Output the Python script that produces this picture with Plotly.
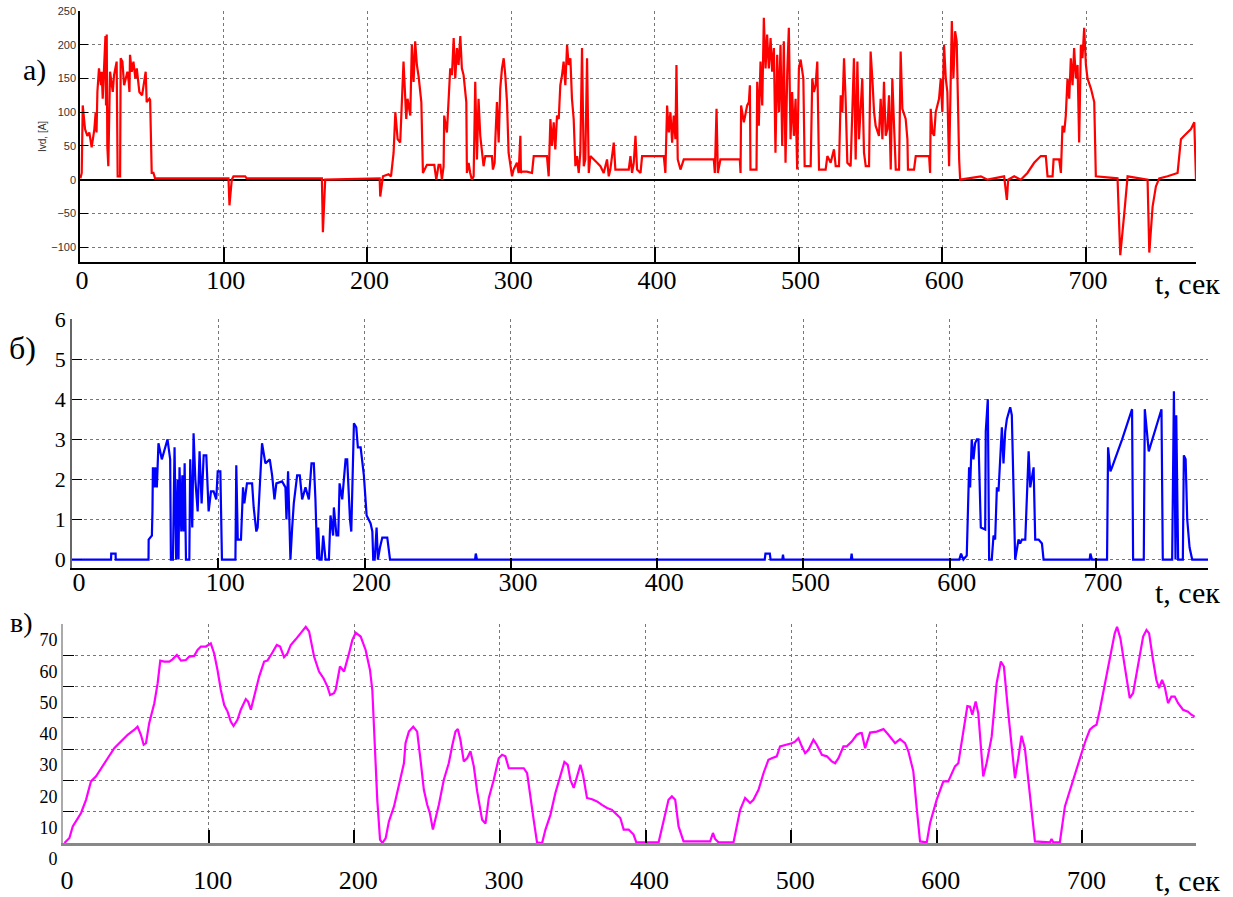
import plotly.graph_objects as go

W, H = 1233, 897

# ---------------- data ----------------
# panel a: Ivd, [A]
t_a = [0.3, 1.2, 1.9, 3.5, 5.1, 6.5, 8.1, 10.0, 10.9, 11.5, 12.1, 13.2, 14.6, 15.1, 15.8, 17.7, 18.1, 18.6, 19.0, 19.7,
       20.9, 22.8, 23.7, 25.5, 26.2, 27.9, 28.3, 29.5, 30.7, 32.0, 33.0, 33.9, 34.4, 34.8, 36.0, 37.2, 38.5, 39.5,
       41.3, 43.2, 45.7, 46.4, 48.3, 48.8, 49.9, 51.1, 52.2, 103.3, 104.0, 105.6, 106.8, 114.9, 116, 168.3, 169.0,
       170.6, 208.5, 208.9, 210.8, 214.7, 216.4, 218.2, 219.4, 221.0, 222.8, 225.1, 227, 227.9, 229.8, 230.9, 232.1,
       233.2, 234.4, 235.6, 236.7, 237.5, 238.6, 241.4, 246.5, 247.9, 249.5, 250.7, 251.8, 253, 253.4, 255.3, 257.6,
       258.8, 260, 261.1, 262.3, 263.4, 264.6, 265.7, 266.9, 268.8, 269.2, 270.4, 271.5, 272.7, 273.9, 275, 276.2,
       277.3, 278.5, 279.7, 280.8, 282, 286.6, 287.3, 288.5, 289, 290.1, 291.3, 292.4, 293.6, 294.8, 295.9, 297.1,
       298.2, 299.4, 300.6, 301.7, 304, 305.2, 306.4, 306.8, 307.5, 311, 314.5, 315.7, 324.9, 326.1, 327.3, 328.4,
       329.6, 330.7, 331.9, 333.1, 334.2, 335.4, 336.5, 337.7, 338.9, 340, 341.2, 342.3, 343.5, 344.7, 345.8, 347,
       348.1, 349.3, 350.5, 351.6, 352.8, 354, 355.1, 359.8, 362.1, 364.4, 366.7, 367.9, 369, 371.4, 372.5, 381.8,
       383, 384.1, 385.3, 386.5, 387.6, 390, 391.1, 406.2, 407.3, 408.5, 409.7, 410.8, 412, 413.1, 414.3, 415,
       415.9, 417.8, 420.1, 441, 441.7, 442.9, 443.8, 445.6, 459.1, 459.6, 460, 461.9, 464.2, 465.4, 466.1, 466.5,
       470.7, 471.2, 472.3, 473.5, 474.7, 475.8, 477, 478.1, 479.3, 480.5, 481.6, 482.8, 483.9, 485.1, 486.3, 487.4,
       488.6, 489.7, 490.9, 492.1, 493.2, 494.4, 495.5, 496.7, 497.9, 499, 500.2, 501.4, 503.3, 504.2, 506, 508.4,
       509.5, 510.7, 511.8, 513, 514.2, 518.8, 520, 522.3, 524.6, 525.8, 528.1, 529.3, 530.4, 531.6, 532.7, 533.9,
       536.2, 537.4, 538.5, 539.7, 540.9, 542, 544.3, 545.5, 546.7, 549, 550.1, 551.3, 552.5, 553.6, 555.9, 557.1,
       558.3, 559.4, 560.6, 561.8, 562.9, 564.1, 565.2, 566.4, 567.6, 569.9, 571.0, 572.2, 574.5, 575.7, 576.1,
       580.3, 581.5, 590.8, 591.5, 591.9, 593.1, 594.3, 595.4, 597.7, 598.9, 600, 601.2, 602.4, 603.5, 604.7, 605.4,
       606.6, 607.7, 608.9, 610, 611, 611.7, 612.4, 626.8, 631.4, 643, 644.9, 645.8, 650, 654.6, 659.2, 663.9,
       668.5, 672, 673.2, 676.7, 677.4, 681.3, 682.5, 683.6, 684.8, 685.9, 687.1, 688.3, 689.4, 690.6, 691.7, 692.9,
       694.1, 695.2, 696.4, 697.5, 698.7, 699.9, 701, 703.4, 705.7, 706.8, 721.9, 723.8, 726.6, 728.9, 742.8, 744,
       746.3, 748.6, 750.9, 756.7, 763.7, 766, 768.3, 773, 775.3, 776.5]
ivd_a = [2, 10, 110, 75, 65, 70, 48, 75, 100, 70, 130, 165, 140, 160, 120, 213, 110, 215, 50, 20,
         160, 130, 155, 175, 5, 5, 180, 175, 140, 150, 160, 145, 130, 185, 160, 175, 150, 165,
         130, 125, 160, 115, 120, 118, 10, 10, 2, 2, -38, 0, 5, 5, 2, 2, -78,
         0, 2, -25, 5, 8, 5, 40, 100, 60, 55, 175, 90, 120, 95, 200, 145,
         205, 170, 153, 124, 115, 10, 22, 22, 0, 22, 22, 0, 20, 95, 70, 165,
         155, 210, 150, 195, 170, 213, 165, 155, 115, 10, 25, 10, 0, 5, 145, 30,
         120, 65, 35, 20, 35, 35, 15, 25, 60, 115, 55, 135, 165, 180, 155, 115,
         40, 25, 5, 15, 25, 10, 65, 10, 12, 12, 10, 35, 35, 5, 90, 50,
         85, 45, 95, 90, 140, 155, 175, 140, 200, 170, 180, 120, 90, 20, 35, 10,
         40, 195, 20, 30, 180, 10, 35, 25, 20, 10, 30, 5, 15, 55, 15, 15,
         35, 10, 25, 65, 15, 10, 35, 35, 10, 110, 70, 100, 55, 95, 60, 170,
         30, 15, 30, 30, 10, 105, 10, 30, 30, 10, 110, 85, 110, 115, 140, 15,
         15, 145, 80, 175, 110, 240, 165, 215, 165, 210, 160, 195, 40, 185, 100, 200,
         50, 205, 25, 160, 225, 60, 130, 65, 120, 15, 165, 178, 150, 20, 20, 20,
         150, 130, 140, 175, 15, 15, 35, 25, 45, 20, 20, 125, 100, 180, 120, 25,
         20, 100, 180, 30, 175, 60, 150, 40, 20, 20, 190, 150, 100, 80, 65, 120,
         60, 145, 65, 75, 125, 15, 150, 80, 15, 15, 190, 105, 90, 60, 15,
         15, 35, 35, 10, 105, 70, 65, 100, 120, 150, 100, 200, 150, 130, 20, 120,
         235, 150, 220, 205, 60, 30, 0, 5, 0, 5, -30, 0, 5, 0, 10, 25,
         35, 35, 5, 5, 30, 30, 10, 80, 70, 95, 150, 120, 180, 140, 195, 150,
         170, 55, 200, 180, 225, 170, 150, 135, 115, 5, 2, -112, -50, 5, 0, -108,
         -40, -10, 2, 5, 10, 60, 65, 75, 85, 0]

# panel b
t_b = [0, 26.7, 26.8, 29.8, 29.9, 52.3, 52.4, 54.6, 55.0, 55.3, 56.4, 56.9, 58, 59.1, 61.4, 63.7, 65.3, 67.1, 67.6,
       69, 70.1, 71.2, 72.2, 72.8, 73.5, 74.7, 75.4, 76.3, 77, 77.9, 80.2, 80.8, 82.2, 83.1, 84.3, 85.9, 87.2, 88.6,
       90, 91.8, 93.4, 95, 96.8, 98.6, 99.6, 101.4, 102.5, 111.7, 112.3, 113.3, 115.5, 116.9, 117.8, 119.6, 123.1,
       124.2, 126, 126.9, 128.3, 129.9, 132.2, 135.2, 136.8, 138.4, 139.7, 143.6, 145.9, 146.6, 147.7, 149.3, 150.5,
       151.6, 153.9, 155.7, 157.3, 159.6, 161.9, 163.7, 165.3, 166.4, 167.6, 168.3, 169.2, 170.6, 171.7, 173.3,
       175.6, 176.7, 178.5, 179, 180.8, 182, 182.9, 184.7, 187, 188.1, 190, 190.9, 192.7, 194.3, 195.4, 197.3,
       199.5, 201.4, 204.1, 205.3, 205.9, 206.9, 208.2, 209.1, 210.5, 212.1, 215.5, 217.4, 275.5, 276, 276.8,
       473.5, 474, 477, 477.5, 485.5, 486, 486.5, 532.4, 532.9, 533.4, 606.5, 607.7, 609.3, 611.6, 613.2, 613.9,
       615.0, 616.2, 617.3, 618.5, 619.6, 621.2, 624.2, 624.6, 626.0, 626.9, 628.7, 629.9, 631.0, 632.2, 633.3,
       635.6, 636.7, 637.9, 639.0, 641.3, 642.4, 644.7, 647.0, 648.1, 649.3, 651.6, 653.9, 655.0, 656.1, 657.3,
       658.4, 660.7, 663.0, 664.1, 695.6, 696.1, 697.2, 707.5, 708.2, 709.8, 710.9, 717.8, 724.6, 725.3, 732.6,
       733.3, 736.0, 744.7, 745.6, 752.0, 753.2, 754.3, 754.8, 756.1, 759.3, 760.0, 761.2, 762.3, 763.9, 765.7,
       776.5]
w_b = [0, 0, 0.15, 0.15, 0, 0, 0.5, 0.6, 1.2, 2.3, 1.8, 2.3, 1.8, 2.9, 2.5, 2.8, 3.0, 2.5, 0,
       0, 2.8, 0, 2.0, 0, 2.3, 0.7, 2.1, 0.7, 2.4, 0, 0, 2.5, 0.8, 3.15, 2.0, 1.2, 2.7, 1.4,
       2.6, 2.6, 1.2, 1.7, 1.7, 1.5, 2.2, 2.2, 0, 0, 2.35, 0.5, 0.5, 1.8, 1.4, 1.9, 1.9,
       1.3, 0.7, 0.8, 1.8, 2.9, 2.4, 2.5, 2.1, 1.5, 1.9, 1.95, 1.8, 1.0, 2.2, 0, 0.8,
       1.4, 2.1, 2.1, 1.5, 1.8, 1.5, 2.4, 2.4, 1.5, 0, 0.8, 0, 0, 0.6, 0,
       0, 1.1, 0.6, 1.3, 0.6, 0.6, 1.9, 1.5, 2.5, 2.5, 1.0, 0.7, 3.4, 3.3, 2.8, 2.8,
       2.1, 1.1, 0.9, 0.7, 0, 0, 0.8, 0, 0.3, 0.55, 0.55, 0, 0, 0.15, 0,
       0, 0.15, 0.15, 0, 0, 0.12, 0, 0, 0.15, 0, 0, 0.15, 0, 0.1, 2.3, 1.8,
       3.0, 2.5, 2.9, 3.0, 3.0, 0.8, 0.75, 3.2, 4.0, 0, 0, 0.6, 0.5, 1.8, 1.7,
       3.3, 2.4, 3.2, 3.5, 3.8, 3.6, 0, 0.5, 0.4, 0.5, 0.5, 2.7, 1.8, 2.0, 2.3,
       0.5, 0.5, 0.4, 0, 0, 0.15, 0, 0, 2.8, 2.2, 2.3, 3.0, 3.75, 0, 0,
       3.75, 2.7, 3.75, 0, 0, 4.2, 0, 3.6, 0, 0, 2.6, 2.5, 1.0, 0.3, 0,
       0]

# panel c
t_c = [1, 4.4, 6.7, 8.9, 12.4, 15.8, 19.2, 22.7, 26.1, 30.7, 35.2, 39.8, 44.4, 49, 51.2, 53.5, 55.4, 57, 59.2, 62.7,
       65, 66.8, 69.5, 73, 75.2, 78.2, 81, 84.4, 86.7, 90.1, 92.4, 94.7, 98.1, 101.5, 103.8, 106.1, 108.4, 110.7,
       113, 115.2, 117.1, 119.8, 122.1, 125.5, 127.1, 129, 131.3, 134.7, 138.1, 140.4, 143.8, 146.8, 149.1, 151.8,
       154.1, 156.4, 159.8, 163.3, 166.7, 169, 172.4, 175.8, 178.8, 181.6, 183.4, 186.1, 187.3, 190.2, 193, 196.4,
       198.7, 201, 204.4, 207.8, 210.8, 212.4, 214.7, 215.8, 217.7, 219.3, 221.6, 223.8, 227.3, 230.7, 234.1,
       235.2, 237.5, 240.5, 243.2, 245.5, 247.8, 250.1, 251.9, 254, 255.8, 258.1, 261.5, 264.9, 267.2, 269.5,
       271.1, 272.9, 275.2, 277.5, 279.8, 282.1, 284.4, 287.8, 290.1, 292.4, 295.8, 299.2, 301.5, 303.8, 306.1,
       309.5, 316.4, 318.7, 321, 323.2, 325.5, 329, 331.3, 334.7, 338.1, 341.5, 344.3, 346.6, 348.4, 350.7, 353,
       355.3, 357.1, 359.8, 363.3, 366.7, 370.1, 373.6, 377, 379.3, 382.7, 385, 388.4, 391.8, 393.7, 409, 412.4,
       415.8, 418.1, 420.4, 422.7, 426.1, 444.4, 446.3, 447.8, 450.1, 460.4, 462.7, 465, 468.4, 471.8, 474.1,
       477.6, 481, 484.4, 486.7, 490.1, 492.4, 497, 500.4, 502.7, 505, 507.3, 509.6, 511.9, 515.3, 517.6, 521.1,
       524.5, 527.9, 530.2, 532.5, 535.9, 538.2, 541.6, 545.1, 547.4, 548.5, 550.8, 554.2, 558.8, 563.4, 566.8,
       571.4, 574.8, 578.2, 580.5, 583.9, 586.2, 588.5, 593.1, 595.4, 599.9, 604.5, 607.9, 612.5, 614.8, 617.1,
       619.4, 621, 622.8, 624.4, 626.7, 628.5, 631.9, 634.2, 637.7, 641.1, 644, 646.1, 649.1, 653.7, 656, 658.2,
       660.5, 664, 667.4, 677.7, 678.8, 680, 684.5, 688, 691.4, 696, 699.4, 702.4, 705.1, 707.4, 709.7, 712,
       715.4, 718.8, 722.2, 723.8, 726.1, 729.1, 732.5, 734.8, 738.2, 741.7, 744, 745.8, 748.5, 750.8, 752.6,
       754.7, 756.5, 758.8, 761.1, 763.4, 765.7, 769.1, 772.5, 774.8, 777.1]
v_c = [0, 1.6, 5.3, 6.9, 9.6, 13.8, 19.7, 21.3, 23.9, 27.1, 30.3, 32.4, 34.6, 36.2, 37.2, 34.6, 31.4, 31.9, 38.3, 44.7,
       51.1, 58.3, 58, 58, 58.7, 60.1, 58.3, 58.5, 59.6, 59.8, 61.7, 62.8, 62.8, 63.8, 60.6, 55.3, 48.9, 44.1,
       42, 38.8, 37.4, 39.4, 42.6, 46, 45.2, 42.6, 46.8, 53.2, 58, 58.3, 60.9, 63.3, 62.8, 59.4,
       60.6, 63.3, 65.1, 67, 69.1, 67.6, 59.6, 54.8, 52.7, 50, 47.3, 47.9, 49.1, 56.4, 54.8, 60.6,
       64.9, 67.2, 66, 61.7, 55.3, 48.9, 26.6, 13.8, 1.1, 0, 1.6, 6.9, 11.7, 18.6, 25.5,
       31.9, 35.6, 37.2, 35.6, 26.6, 17, 12.2, 9.6, 4.3, 7.4, 12.2, 20.2, 25.5, 30.9, 35.6,
       36.4, 33, 26.1, 27.1, 29.3, 24.5, 16.5, 7.4, 6.2, 14.4, 20.2, 27.1, 28.2, 27.7, 23.9,
       23.9, 23.9, 22.3, 15.4, 7.4, 0.2, 0, 4.3, 9, 16, 21.3, 25.9, 25, 20.2, 17.6, 21.3,
       25, 21.8, 14.4, 14, 13.3, 12.2, 11.2, 10.6, 9.6, 8, 4.3, 4.3, 2.7, 0.2, 0.2, 7.4,
       13.8, 14.9, 13.8, 5.3, 0.5, 0.5, 3.2, 1.3, 0.2, 0.2, 5.3, 10.6, 14.4, 12.8, 13.8,
       17, 22.3, 26.6, 27.1, 27.7, 30.9, 31.4, 31.9, 32.4, 33.5, 30.9, 28.7, 29.8, 33, 31.4, 28.2,
       27.7, 26.1, 25.5, 27.1, 30.9, 30.9, 32.4, 34.6, 35.1, 35.1, 30.3, 35.3, 35.6, 36.4, 34.6,
       31.9, 33.2, 31.9, 29.3, 22.9, 11.2, 0.5, 0.2, 6.4, 13.8, 19.7, 19.7, 24.5, 25.5, 31.9,
       38.8, 43.8, 43.6, 41, 45.2, 41.5, 21.3, 25.5, 34, 51.1, 58, 56.4, 41.5, 20.7, 27.1, 34.3,
       30.3, 14.4, 0.5, 0.2, 1.3, 0.2, 0.2, 11.7, 17, 23.4, 28.7, 33, 36.2, 37.2, 37.8, 42.6,
       51.1, 59, 67, 69.1, 65.4, 56.4, 46.3, 47.9, 57.4, 66, 68.1, 67, 58.5, 52.1, 49.5,
       52.1, 50, 44.7, 46.8, 46.8, 44.7, 42.6, 42, 41, 40.4]

x_ticks = [0, 100, 200, 300, 400, 500, 600, 700]
x_ticktext = ["0", "100", "200", "300", "400", "500", "600", "700"]
ya_ticks = [-100, -50, 0, 50, 100, 150, 200, 250]
yb_ticks = [0, 1, 2, 3, 4, 5, 6]
yc_ticks = [0, 10, 20, 30, 40, 50, 60, 70]
panel_labels = ["а)", "б)", "в)"]
x_title = "t, сек"
ya_title = "Ivd, [A]"

# ---------------- layout helpers ----------------
def xd(l, r):
    return [l / W, r / W]

def yd(top, bottom):
    return [1 - bottom / H, 1 - top / H]

SERIF = "Liberation Serif, Times New Roman, serif"
SANS = "Liberation Sans, Arial, sans-serif"

fig = go.Figure()
fig.add_trace(go.Scatter(x=t_a, y=ivd_a, mode="lines", line=dict(color="#ff0000", width=2.2),
                         xaxis="x", yaxis="y", showlegend=False))
fig.add_trace(go.Scatter(x=t_b, y=w_b, mode="lines", line=dict(color="#0000ff", width=2.2),
                         xaxis="x2", yaxis="y2", showlegend=False))
fig.add_trace(go.Scatter(x=t_c, y=v_c, mode="lines", line=dict(color="#ff00ff", width=2.2),
                         xaxis="x3", yaxis="y3", showlegend=False, cliponaxis=False))

grid = dict(showgrid=True, gridcolor="#777777", gridwidth=1, griddash="dot", automargin=False)

def xaxis(dom, rng, anchor, shift, standoff, ticklen):
    return dict(domain=dom, range=rng, anchor=anchor, tickmode="array", tickvals=x_ticks, ticktext=x_ticktext,
                tickfont=dict(family=SERIF, size=26, color="black"), ticks="inside", ticklen=ticklen,
                tickcolor="black", tickwidth=1.5, ticklabelshift=shift, ticklabelstandoff=standoff,
                zeroline=False, showline=True, linecolor="black", linewidth=1.5, **grid)

fig.update_layout(
    width=W, height=H, margin=dict(l=0, r=0, t=0, b=0, autoexpand=False),
    paper_bgcolor="white", plot_bgcolor="white",
    xaxis=xaxis(xd(80, 1196), [0, 776.5], "y", 2, -6, 15),
    yaxis=dict(domain=yd(11, 262), range=[-122, 250], anchor="x", tickmode="array", tickvals=ya_ticks,
               tickfont=dict(family=SANS, size=11, color="#333333"), ticks="inside", ticklen=8,
               tickcolor="black", showline=True, linecolor="black", linewidth=1.5,
               zeroline=True, zerolinecolor="black", zerolinewidth=2, ticklabelstandoff=0, **grid),
    xaxis2=xaxis(xd(72, 1208), [0, 776.5], "y2", 7, -10, 10),
    yaxis2=dict(domain=yd(319, 568), range=[-0.21, 6], anchor="x2", tickmode="array", tickvals=yb_ticks,
                tickfont=dict(family=SERIF, size=22, color="black"), ticks="inside", ticklen=10,
                tickcolor="black", showline=True, linecolor="#666666", linewidth=1.5,
                zeroline=False, ticklabelstandoff=0, **grid),
    xaxis3=xaxis(xd(63, 1196), [0, 778], "y3", 4, 12, 13),
    yaxis3=dict(domain=yd(624, 843), range=[0, 70], anchor="x3", tickmode="array", tickvals=yc_ticks,
                tickfont=dict(family=SERIF, size=18, color="black"), ticks="inside", ticklen=11,
                tickcolor="black", showline=True, linecolor="#aaaaaa", linewidth=2,
                zeroline=False, ticklabelshift=16, ticklabelstandoff=0, **grid),
)
fig.update_layout(xaxis3=dict(linecolor="#888888", linewidth=3))

def px_ann(text, x, y, size, family=SERIF, angle=0, color="black"):
    fig.add_annotation(text=text, x=x / W, y=1 - y / H, xref="paper", yref="paper", showarrow=False,
                       xanchor="center", yanchor="middle", textangle=angle,
                       font=dict(family=family, size=size, color=color))

px_ann(panel_labels[0], 34, 70, 30)
px_ann(panel_labels[1], 22, 348, 32)
px_ann(panel_labels[2], 21, 622, 28)
px_ann(x_title, 1187, 284, 30)
px_ann(x_title, 1187, 592, 30)
px_ann(x_title, 1187, 880, 30)
px_ann(ya_title, 42, 137, 10, family=SANS, angle=-90, color="#333333")

fig.write_html("out.html", config={"displayModeBar": False},
               post_script="document.body.style.margin='0';document.body.style.overflow='hidden';")
